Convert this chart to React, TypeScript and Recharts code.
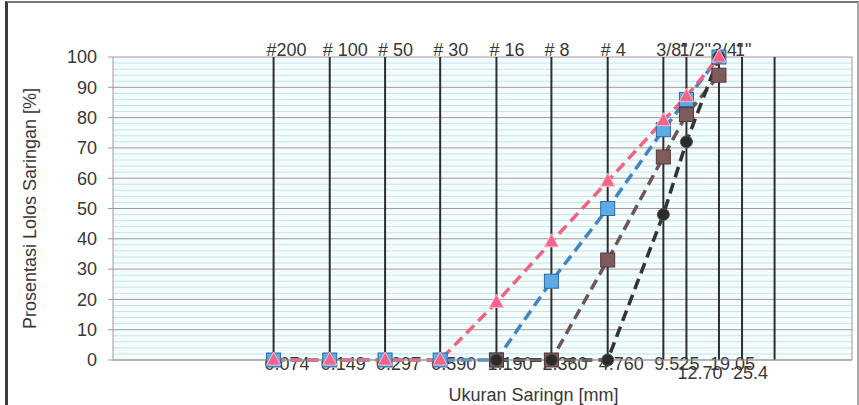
import { LineChart, Line, XAxis, YAxis, CartesianGrid, ReferenceLine } from "recharts"

// sieve openings (mm), their names (top) and size labels (bottom)
const sieveSizes = [0.074, 0.149, 0.297, 0.59, 1.19, 2.36, 4.76, 9.525, 12.7, 19.05, 25.4, 38.1]
const sieveNames = ["#200", "# 100", "# 50", "# 30", "# 16", "# 8", "# 4", '3/8"', '1/2"', '3/4"', '1"', ""]
const sizeLabels = ["0.074", "0.149", "0.297", "0.590", "1.190", "2.360", "4.760", "9.525", "12.70", "19.05", "25.4", ""]

// percent passing per gradation
const pinkSizes = [0.074, 0.149, 0.297, 0.59, 1.19, 2.36, 4.76, 9.525, 12.7, 19.05]
const pinkPassing = [0, 0, 0, 0, 19, 39, 59, 79, 87, 100]
const blueSizes = [0.074, 0.149, 0.297, 0.59, 1.19, 2.36, 4.76, 9.525, 12.7, 19.05]
const bluePassing = [0, 0, 0, 0, 0, 26, 50, 76, 86, 100]
const brownSizes = [1.19, 2.36, 4.76, 9.525, 12.7, 19.05]
const brownPassing = [0, 0, 33, 67, 81, 94]
const darkSizes = [1.19, 2.36, 4.76, 9.525, 12.7, 19.05]
const darkPassing = [0, 0, 0, 48, 72, 100]

const yTicks = [0, 10, 20, 30, 40, 50, 60, 70, 80, 90, 100]
const minorTicks = [2, 4, 6, 8, 12, 14, 16, 18, 22, 24, 26, 28, 32, 34, 36, 38, 42, 44, 46, 48, 52, 54, 56, 58, 62, 64, 66, 68, 72, 74, 76, 78, 82, 84, 86, 88, 92, 94, 96, 98]

const toPoints = (xs: number[], ys: number[]) => xs.map((x, i) => ({ x, y: ys[i] }))

const FONT = '"Liberation Sans", Arial, sans-serif'
const TEXT = "#383838"

// bottom labels get pushed down a row when they would run into the previous one
const labelEnds: number[] = []

function SieveLabel(props: any) {
    const { viewBox, idx } = props
    if (!viewBox) return null
    const { x, y, height } = viewBox
    if (idx === 0) labelEnds.length = 0
    const size = sizeLabels[idx]
    const start = x - 9
    let level = 0
    if (size) {
        while (labelEnds[level] !== undefined && labelEnds[level] > start) level++
        labelEnds[level] = start + size.length * 9.6
    }
    return (
        <g fontFamily={FONT} fontSize={18} fill={TEXT}>
            <text x={x - 7} y={y - 1}>{sieveNames[idx]}</text>
            <text x={start} y={y + height + 4 + level * 9} dominantBaseline="central">{size}</text>
        </g>
    )
}

const triangle = (fill: string, stroke: string) => (p: any) => {
    const { cx, cy, index } = p
    return (
        <path
            key={`t-${index}`}
            d={`M${cx},${cy - 8} L${cx + 7},${cy + 5} L${cx - 7},${cy + 5} Z`}
            fill={fill}
            stroke={stroke}
            strokeWidth={1}
        />
    )
}

const square = (fill: string, stroke: string) => (p: any) => {
    const { cx, cy, index } = p
    return <rect key={`s-${index}`} x={cx - 7} y={cy - 7} width={14} height={14} fill={fill} stroke={stroke} strokeWidth={1} />
}

const circle = (fill: string, stroke: string) => (p: any) => {
    const { cx, cy, index } = p
    return <circle key={`c-${index}`} cx={cx} cy={cy} r={6} fill={fill} stroke={stroke} strokeWidth={1} />
}

export default function App() {
    return (
        <div style={{ position: "fixed", left: 0, top: 0, width: 859, height: 405, background: "#fff" }}>
            <LineChart
                width={859}
                height={405}
                margin={{ top: 57, right: 7, bottom: 0, left: 0 }}
            >
                <CartesianGrid vertical={false} stroke="#9c9c9c" fill="#f6fcfc" />
                {minorTicks.map((v) => (
                    <ReferenceLine key={`m${v}`} y={v} stroke="#bce7ee" strokeWidth={1} />
                ))}
                <ReferenceLine x={100} stroke="#9c9c9c" />
                {sieveSizes.map((s, i) => (
                    <ReferenceLine
                        key={`v${s}`}
                        x={s}
                        stroke="#2e2e2e"
                        strokeWidth={2}
                        label={<SieveLabel idx={i} />}
                    />
                ))}
                <XAxis
                    type="number"
                    dataKey="x"
                    scale="log"
                    domain={[0.01, 100]}
                    allowDataOverflow
                    tick={false}
                    tickLine={false}
                    height={45}
                    axisLine={{ stroke: "#9c9c9c" }}
                    label={{
                        value: "Ukuran Saringn [mm]",
                        position: "insideBottom",
                        offset: 4,
                        dx: 51,
                        style: { fontFamily: FONT, fontSize: 18, fill: TEXT },
                    }}
                />
                <YAxis
                    type="number"
                    domain={[0, 100]}
                    ticks={yTicks}
                    width={113}
                    tickSize={5}
                    tickMargin={11}
                    tick={{ fontFamily: FONT, fontSize: 18, fill: TEXT }}
                    tickLine={{ stroke: "#9c9c9c" }}
                    axisLine={{ stroke: "#9c9c9c" }}
                    label={{
                        value: "Prosentasi Lolos Saringan [%]",
                        angle: -90,
                        position: "center",
                        dx: -27,
                        style: { fontFamily: FONT, fontSize: 18, fill: TEXT, textAnchor: "middle" },
                    }}
                />
                <Line
                    data={toPoints(blueSizes, bluePassing)}
                    dataKey="y"
                    stroke="#3f86c4"
                    strokeWidth={3.5}
                    strokeDasharray="11 6"
                    dot={square("#5caae6", "#2d6a9e")}
                    isAnimationActive={false}
                />
                <Line
                    data={toPoints(brownSizes, brownPassing)}
                    dataKey="y"
                    stroke="#6f5656"
                    strokeWidth={3.5}
                    strokeDasharray="11 6"
                    dot={square("#7e5c5c", "#553838")}
                    isAnimationActive={false}
                />
                <Line
                    data={toPoints(darkSizes, darkPassing)}
                    dataKey="y"
                    stroke="#333333"
                    strokeWidth={3.5}
                    strokeDasharray="11 6"
                    dot={circle("#2b2b2b", "#555555")}
                    isAnimationActive={false}
                />
                <Line
                    data={toPoints(pinkSizes, pinkPassing)}
                    dataKey="y"
                    stroke="#f1637e"
                    strokeWidth={3.5}
                    strokeDasharray="11 6"
                    dot={triangle("#f2648a", "#ffb6c8")}
                    isAnimationActive={false}
                />
            </LineChart>
            <div
                style={{
                    position: "absolute",
                    left: 5,
                    top: 1,
                    width: 849,
                    height: 402,
                    borderLeft: "3px solid #3c3c3c",
                    borderTop: "2px solid #777",
                    borderRight: "2px solid #aaa",
                    borderBottom: "1px solid #ddd",
                    pointerEvents: "none",
                }}
            />
        </div>
    )
}
